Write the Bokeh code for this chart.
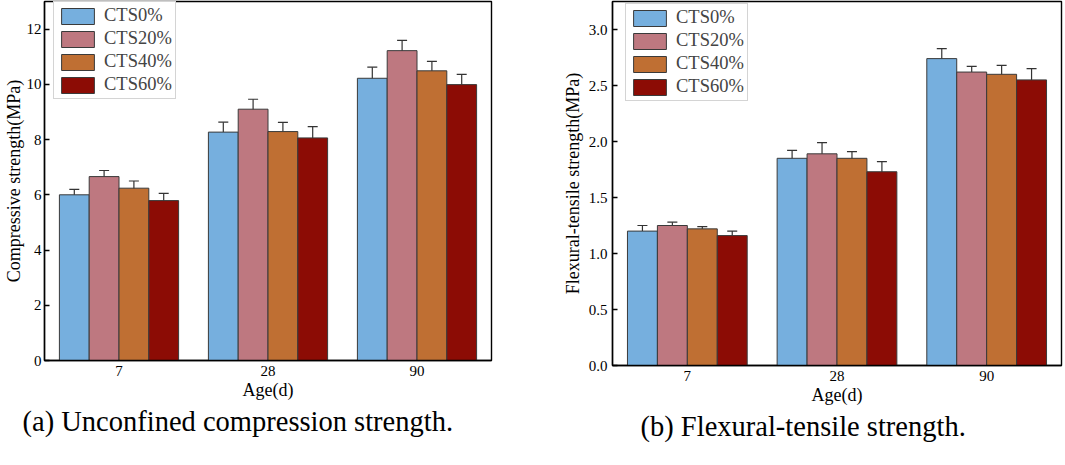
from bokeh.plotting import figure
from bokeh.models import (FactorRange, Range1d, Legend, LegendItem, Whisker,
                          ColumnDataSource, Title, FixedTicker, PrintfTickFormatter, TeeHead)
from bokeh.transform import dodge
from bokeh.layouts import row, column
from bokeh.embed import file_html
from bokeh.resources import INLINE

# ---------------- data ----------------
ages = ["7", "28", "90"]
series = ["CTS0%", "CTS20%", "CTS40%", "CTS60%"]
colors = ["#76AFDE", "#BE7880", "#BF6F33", "#8C0C05"]

comp_cts0 = [6.00, 8.27, 10.22]
comp_cts20 = [6.66, 9.10, 11.22]
comp_cts40 = [6.24, 8.29, 10.49]
comp_cts60 = [5.79, 8.06, 9.99]
comp_err_cts0 = [0.20, 0.36, 0.40]
comp_err_cts20 = [0.22, 0.36, 0.37]
comp_err_cts40 = [0.26, 0.33, 0.34]
comp_err_cts60 = [0.26, 0.41, 0.37]

flex_cts0 = [1.20, 1.85, 2.74]
flex_cts20 = [1.25, 1.89, 2.62]
flex_cts40 = [1.22, 1.85, 2.60]
flex_cts60 = [1.16, 1.73, 2.55]
flex_err_cts0 = [0.05, 0.07, 0.09]
flex_err_cts20 = [0.03, 0.10, 0.05]
flex_err_cts40 = [0.02, 0.06, 0.08]
flex_err_cts60 = [0.04, 0.09, 0.10]

comp_ticks = [0, 2, 4, 6, 8, 10, 12]
flex_ticks = [0.0, 0.5, 1.0, 1.5, 2.0, 2.5, 3.0]

FONT = "'Liberation Serif', 'Times New Roman', serif"
offsets = [-0.3, -0.1, 0.1, 0.3]
LEG_H = 96


def make_panel(values, errors, ymax, ticks, fmt, ylabel, caption, width, height,
               bl, br, frame_h, legend_x, legend_top, tick_standoff, label_standoff,
               cap_offset, cap_gap):
    p = figure(x_range=FactorRange(*ages, range_padding=0), y_range=Range1d(0, ymax),
               width=width, height=height, output_backend="svg", toolbar_location=None,
               min_border_left=bl, min_border_right=br, min_border_top=1,
               min_border_bottom=height - 1 - frame_h)
    p.grid.visible = False
    p.outline_line_color = "black"
    p.outline_line_width = 1.4
    p.background_fill_color = "white"
    p.border_fill_color = "white"

    items = []
    for i, name in enumerate(series):
        v = values[i]
        e = errors[i]
        src = ColumnDataSource(dict(x=ages, top=v,
                                    upper=[a + b for a, b in zip(v, e)],
                                    lower=[a - b for a, b in zip(v, e)]))
        r = p.vbar(x=dodge("x", offsets[i], range=p.x_range), top="top", width=0.2,
                   source=src, fill_color=colors[i], line_color="#3a3a3a", line_width=1)
        w = Whisker(base=dodge("x", offsets[i], range=p.x_range), upper="upper", lower="lower",
                    source=src, line_color="#333333", line_width=1.2,
                    upper_head=TeeHead(size=10, line_color="#333333", line_width=1.2),
                    lower_head=TeeHead(size=10, line_color="#333333", line_width=1.2))
        p.add_layout(w)
        items.append(LegendItem(label=name, renderers=[r]))

    leg = Legend(items=items, location=(legend_x, frame_h - LEG_H - legend_top),
                 glyph_width=41, glyph_height=20,
                 label_height=21, spacing=2, padding=3, margin=0, label_standoff=6,
                 label_text_font=FONT, label_text_font_size="18.5px",
                 border_line_color="#aaaaaa", border_line_width=1,
                 background_fill_color="white", background_fill_alpha=1)
    p.add_layout(leg)

    ya = p.yaxis[0]
    ya.ticker = FixedTicker(ticks=ticks)
    ya.formatter = PrintfTickFormatter(format=fmt)
    ya.minor_tick_line_color = None
    ya.major_tick_in = 5
    ya.major_tick_out = 0
    ya.major_tick_line_width = 1.3
    ya.axis_line_width = 1.4
    ya.major_label_standoff = tick_standoff
    ya.major_label_text_font = FONT
    ya.major_label_text_font_size = "15px"
    ya.major_label_text_color = "black"
    ya.axis_label = ylabel
    ya.axis_label_text_font = FONT
    ya.axis_label_text_font_size = "18px"
    ya.axis_label_text_font_style = "normal"
    ya.axis_label_text_color = "black"
    ya.axis_label_standoff = label_standoff

    xa = p.xaxis[0]
    xa.major_tick_in = 0
    xa.major_tick_out = 0
    xa.minor_tick_line_color = None
    xa.axis_line_width = 1.4
    xa.major_label_standoff = 5
    xa.major_label_text_font = FONT
    xa.major_label_text_font_size = "15px"
    xa.major_label_text_color = "black"
    xa.axis_label = "Age(d)"
    xa.axis_label_text_font = FONT
    xa.axis_label_text_font_size = "18px"
    xa.axis_label_text_font_style = "normal"
    xa.axis_label_text_color = "black"
    xa.axis_label_standoff = 1

    t = Title(text=caption, align="left", offset=cap_offset, text_font=FONT,
              text_font_size="28.5px", text_font_style="normal", text_color="black",
              standoff=2)
    p.add_layout(t, "below")
    # transparent spacer on the other side of the caption
    spacer = Title(text=".", text_font_size="10px", text_alpha=0, standoff=cap_gap)
    p.add_layout(spacer, "below")
    return p


p1 = make_panel([comp_cts0, comp_cts20, comp_cts40, comp_cts60],
                [comp_err_cts0, comp_err_cts20, comp_err_cts40, comp_err_cts60],
                13.0, comp_ticks, "%d", "Compressive strength(MPa)",
                "(a) Unconfined compression strength.", 540, 465, 44, 49, 359,
                9, 2, 3, 0, -22, 11)
p2 = make_panel([flex_cts0, flex_cts20, flex_cts40, flex_cts60],
                [flex_err_cts0, flex_err_cts20, flex_err_cts40, flex_err_cts60],
                3.25, flex_ticks, "%.1f", "Flexural-tensile strength(MPa)",
                "(b) Flexural-tensile strength.", 525, 465, 72, 4, 364,
                13, 4, 5, 3, 28, 6)

layout = row(column(p1), column(p2), spacing=0)
open("out.html", "w").write(file_html(layout, INLINE))
